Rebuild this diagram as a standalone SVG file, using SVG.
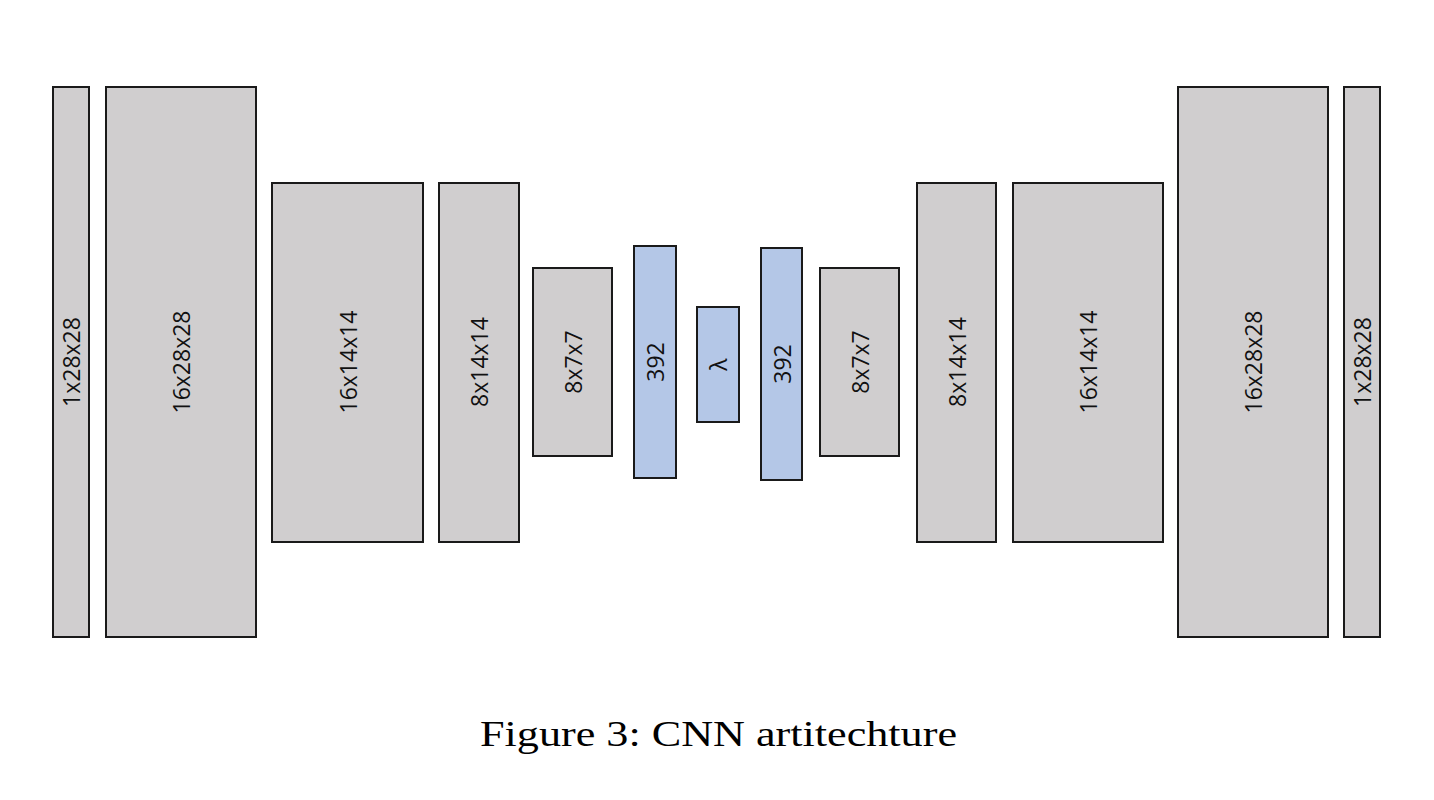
<svg xmlns="http://www.w3.org/2000/svg" width="1434" height="800" viewBox="0 0 1434 800">
<style>
.g{fill:#d0cecf;stroke:#1a1a1a;stroke-width:2}
.b{fill:#b4c7e7;stroke:#1a1a1a;stroke-width:2}
.t{font-family:"Open Sans","Noto Sans",sans-serif;font-size:23px;fill:#111;text-anchor:middle;dominant-baseline:central}
.c{font-family:"Liberation Serif",serif;font-size:36px;fill:#000;text-anchor:middle}
</style>
<rect width="1434" height="800" fill="#fff"/>
<g id="n1"><rect class="g" x="53" y="87" width="36" height="550"/><text class="t" transform="translate(71,362) rotate(-90)">1x28x28</text></g>
<g id="n2"><rect class="g" x="106" y="87" width="150" height="550"/><text class="t" transform="translate(181,362) rotate(-90)">16x28x28</text></g>
<g id="n3"><rect class="g" x="272" y="183" width="151" height="359"/><text class="t" transform="translate(347.5,362) rotate(-90)">16x14x14</text></g>
<g id="n4"><rect class="g" x="439" y="183" width="80" height="359"/><text class="t" transform="translate(479,362) rotate(-90)">8x14x14</text></g>
<g id="n5"><rect class="g" x="533" y="268" width="79" height="188"/><text class="t" transform="translate(572.5,362) rotate(-90)">8x7x7</text></g>
<g id="n6"><rect class="b" x="634" y="246" width="42" height="232"/><text class="t" transform="translate(655,362) rotate(-90)">392</text></g>
<g id="n7"><rect class="b" x="697" y="307" width="42" height="115"/><text class="t" transform="translate(718,364.5) rotate(-90)">λ</text></g>
<g id="n8"><rect class="b" x="761" y="248" width="41" height="232"/><text class="t" transform="translate(781.5,364) rotate(-90)">392</text></g>
<g id="n9"><rect class="g" x="820" y="268" width="79" height="188"/><text class="t" transform="translate(859.5,362) rotate(-90)">8x7x7</text></g>
<g id="n10"><rect class="g" x="917" y="183" width="79" height="359"/><text class="t" transform="translate(956.5,362) rotate(-90)">8x14x14</text></g>
<g id="n11"><rect class="g" x="1013" y="183" width="150" height="359"/><text class="t" transform="translate(1088,362) rotate(-90)">16x14x14</text></g>
<g id="n12"><rect class="g" x="1178" y="87" width="150" height="550"/><text class="t" transform="translate(1253,362) rotate(-90)">16x28x28</text></g>
<g id="n13"><rect class="g" x="1344" y="87" width="36" height="550"/><text class="t" transform="translate(1362,362) rotate(-90)">1x28x28</text></g>
<g id="connectors"></g>
<text class="c" x="718.5" y="746" textLength="477" lengthAdjust="spacingAndGlyphs">Figure 3: CNN artitechture</text>
</svg>
